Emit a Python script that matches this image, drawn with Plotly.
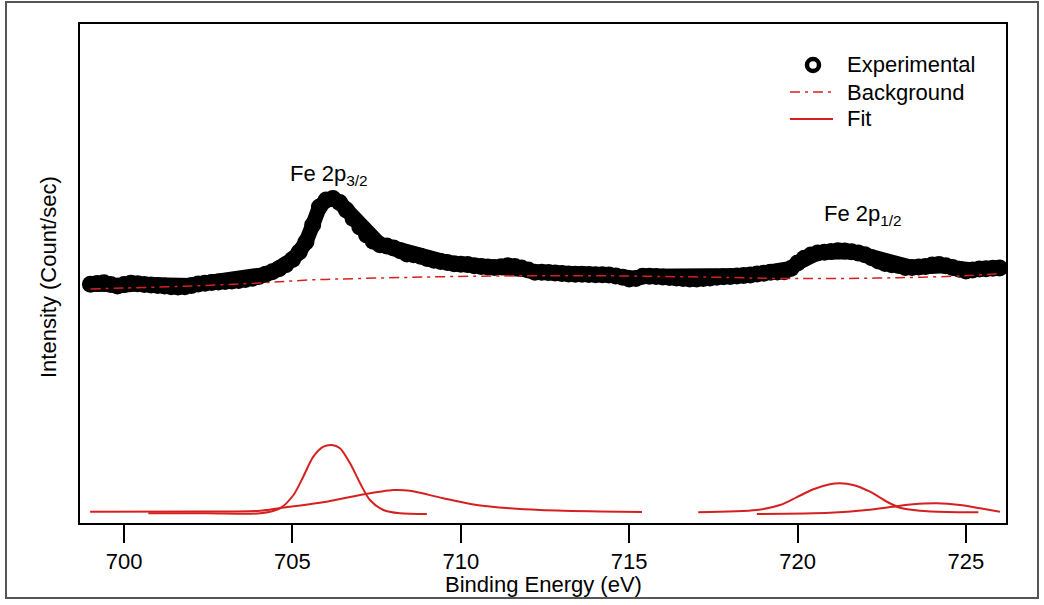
import numpy as np
import plotly.graph_objects as go

# Binding energy grid of the measured spectrum (eV)
energy = np.round(np.linspace(699.0, 726.0, 136), 1)

# Measured Fe 2p intensity (counts/sec)
intensity = [
    2387, 2395, 2403, 2385, 2370, 2385, 2397, 2392, 2386, 2380,
    2376, 2370, 2362, 2360, 2363, 2375, 2390, 2398, 2405, 2410,
    2414, 2420, 2425, 2435, 2448, 2465, 2487, 2512, 2542, 2582,
    2635, 2710, 2810, 2980, 3160, 3230, 3244, 3205, 3130, 3045,
    2960, 2880, 2818, 2782, 2770, 2750, 2722, 2690, 2683, 2667,
    2646, 2628, 2615, 2606, 2592, 2587, 2586, 2572, 2564, 2560,
    2554, 2562, 2572, 2566, 2550, 2530, 2507, 2508, 2506, 2500,
    2496, 2491, 2488, 2487, 2485, 2483, 2482, 2480, 2471, 2458,
    2440, 2445, 2467, 2467, 2465, 2460, 2455, 2450, 2445, 2440,
    2439, 2444, 2450, 2457, 2462, 2465, 2470, 2475, 2480, 2490,
    2498, 2507, 2510, 2512, 2545, 2600, 2648, 2680, 2701, 2708,
    2716, 2723, 2721, 2712, 2700, 2682, 2653, 2620, 2595, 2582,
    2574, 2556, 2554, 2559, 2566, 2580, 2586, 2572, 2554, 2537,
    2521, 2530, 2539, 2543, 2547, 2550,
]

# Shirley-type background
bg_energy = [699.0, 700.0, 702.0, 704.0, 705.5, 707.0, 709.0, 711.0, 712.5,
             714.0, 716.0, 718.0, 719.5, 721.0, 723.0, 725.0, 726.0]
bg_intensity = [2340, 2350, 2370, 2400, 2430, 2445, 2460, 2470, 2473,
                2473, 2465, 2455, 2445, 2445, 2453, 2473, 2495]

# Fitted components (offset to the bottom of the panel)
p32_main_e = [700.72, 702.5, 704.04, 704.63, 705.03, 705.32, 705.62, 705.92,
              706.17, 706.41, 706.71, 707.01, 707.30, 707.70, 708.19, 708.99]
p32_main_i = [97, 97, 97, 147, 280, 463, 663, 763, 780, 747, 597, 397, 230,
              130, 97, 90]

p32_sat_e = [698.99, 702.26, 704.04, 704.63, 706.02, 707.01, 708.00, 708.49,
             709.48, 710.47, 711.46, 712.35, 714.13, 715.38]
p32_sat_i = [113, 115, 123, 150, 213, 280, 330, 323, 247, 180, 147, 130, 115,
             110]

p12_main_e = [717.05, 718.79, 719.48, 719.97, 720.47, 720.96, 721.26, 721.65,
              722.15, 722.65, 723.04, 723.63, 724.43, 725.37]
p12_main_i = [107, 130, 180, 257, 337, 387, 397, 380, 313, 213, 153, 123, 110,
              107]

p12_sat_e = [718.79, 720.96, 722.05, 722.84, 723.43, 724.13, 724.82, 725.42,
             726.01]
p12_sat_i = [90, 103, 130, 163, 187, 197, 180, 147, 113]

x_ticks = [700, 705, 710, 715, 720, 725]
legend_labels = ["Experimental", "Background", "Fit"]

RED = "#d62020"
FONT = "Arial, Liberation Sans, sans-serif"
BG_DASH = "10px,5px,3px,5px"

# plot area in pixels, used to place paper-referenced decorations
L, R, T, B = 80, 1006, 24, 523


def px(xp):
    return (xp - L) / (R - L)


def py(yp):
    return (B - yp) / (B - T)


fig = go.Figure()

# heavy overlapping markers joined by a thick stroke form a continuous band
fig.add_trace(go.Scatter(
    x=energy, y=intensity, mode="lines+markers", name="Experimental",
    showlegend=False,
    line=dict(color="black", width=15),
    marker=dict(symbol="circle", size=17, color="black",
                line=dict(width=0)),
))
fig.add_trace(go.Scatter(
    x=bg_energy, y=bg_intensity, mode="lines", name="Background",
    showlegend=False,
    line=dict(color=RED, width=1.5, dash=BG_DASH, shape="spline"),
))

fits = [(p32_main_e, p32_main_i), (p32_sat_e, p32_sat_i),
        (p12_main_e, p12_main_i), (p12_sat_e, p12_sat_i)]
for fx, fy in fits:
    fig.add_trace(go.Scatter(
        x=fx, y=fy, mode="lines", name="Fit", showlegend=False,
        line=dict(color=RED, width=2, shape="spline", smoothing=0.8),
    ))

# peak labels
fig.add_annotation(x=704.86, y=3480, xref="x", yref="y", xanchor="left",
                   yanchor="middle", showarrow=False,
                   text="Fe 2p<sub>3/2</sub>",
                   font=dict(family=FONT, size=22, color="black"))
fig.add_annotation(x=720.74, y=3080, xref="x", yref="y", xanchor="left",
                   yanchor="middle", showarrow=False,
                   text="Fe 2p<sub>1/2</sub>",
                   font=dict(family=FONT, size=22, color="black"))

# legend, drawn as symbols plus text
leg_rows = [65, 92, 119]
sym_x0, sym_x1, text_x = 790, 833, 845
fig.add_shape(type="circle", xref="paper", yref="paper",
              xsizemode="pixel", ysizemode="pixel",
              xanchor=px(813), yanchor=py(leg_rows[0]),
              x0=-6, x1=6, y0=-6, y1=6,
              line=dict(color="black", width=4.5))
fig.add_shape(type="line", xref="paper", yref="paper",
              x0=px(sym_x0), x1=px(sym_x1),
              y0=py(leg_rows[1]), y1=py(leg_rows[1]),
              line=dict(color=RED, width=1.5, dash=BG_DASH))
fig.add_shape(type="line", xref="paper", yref="paper",
              x0=px(sym_x0), x1=px(sym_x1),
              y0=py(leg_rows[2]), y1=py(leg_rows[2]),
              line=dict(color=RED, width=2))
for label, row in zip(legend_labels, leg_rows):
    fig.add_annotation(x=px(text_x), y=py(row), xref="paper", yref="paper",
                       xanchor="left", yanchor="middle", showarrow=False,
                       text=label,
                       font=dict(family=FONT, size=22, color="black"))

# axis titles
fig.add_annotation(x=0.5, y=py(584), xref="paper", yref="paper",
                   xanchor="center", yanchor="middle", showarrow=False,
                   text="Binding Energy (eV)",
                   font=dict(family=FONT, size=22, color="black"))
fig.add_annotation(x=px(48), y=py(277), xref="paper", yref="paper",
                   xanchor="center", yanchor="middle", showarrow=False,
                   textangle=-90, text="Intensity (Count/sec)",
                   font=dict(family=FONT, size=22, color="black"))

# outer frame around the whole figure
fig.add_shape(type="rect", xref="paper", yref="paper",
              x0=px(6), x1=px(1038), y0=py(598), y1=py(2),
              line=dict(color="#555555", width=2), layer="below")

fig.update_xaxes(
    range=[698.69, 726.19], tickvals=x_ticks, ticks="outside", ticklen=18,
    tickwidth=2, tickcolor="black", showline=True, linecolor="black",
    linewidth=2, mirror=True, showgrid=False, zeroline=False,
    tickfont=dict(family=FONT, size=22, color="black"),
)
fig.update_yaxes(
    range=[0, 4990], showticklabels=False, ticks="", showline=True,
    linecolor="black", linewidth=2, mirror=True, showgrid=False,
    zeroline=False,
)

fig.update_layout(
    width=1044, height=605,
    margin=dict(l=L, r=1044 - R, t=T, b=605 - B),
    paper_bgcolor="white", plot_bgcolor="white",
    font=dict(family=FONT, size=22, color="black"),
    showlegend=False,
    hovermode=False,
)

fig.write_html("out.html", config={"displayModeBar": False})
